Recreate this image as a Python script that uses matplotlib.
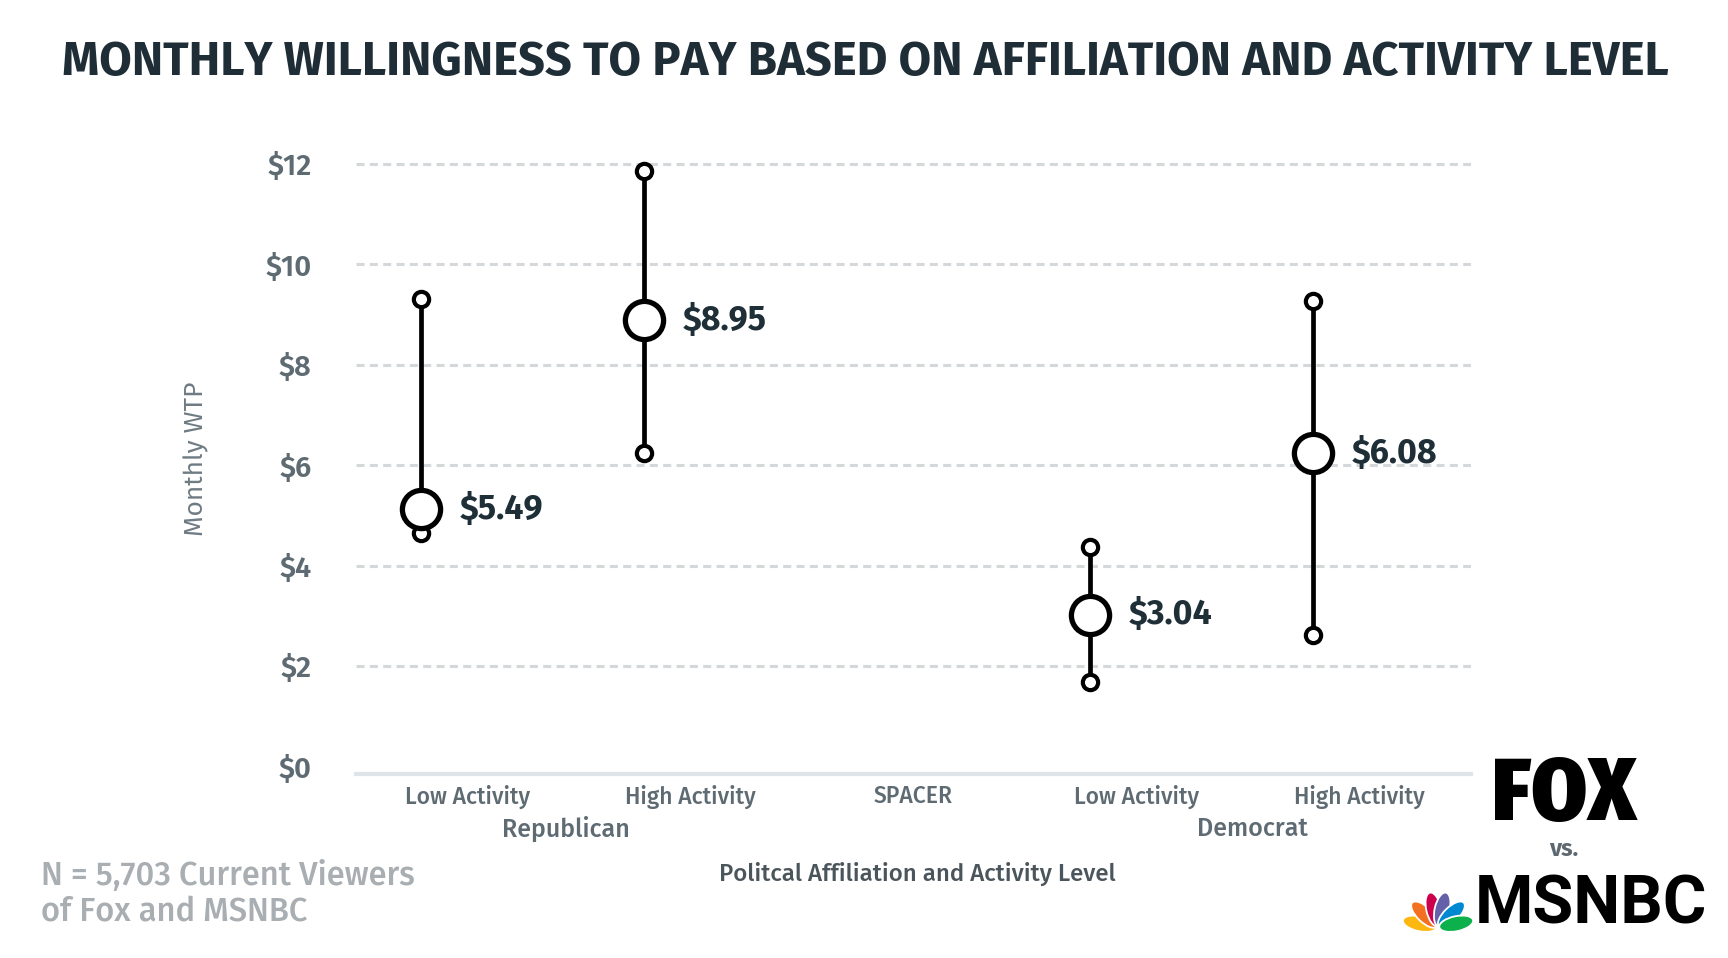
import matplotlib
matplotlib.use('Agg')
import numpy as np
import matplotlib.pyplot as plt
from matplotlib.patches import Ellipse

plt.rcParams['text.parse_math'] = False
plt.rcParams['lines.scale_dashes'] = False

# ---- data ----
CATEGORIES = ['Low Activity', 'High Activity', 'SPACER', 'Low Activity', 'High Activity']
GROUPS = ['Republican', 'Democrat']
GROUP_CENTER = [0.44, 3.52]

POINT_CAT = [0, 1, 3, 4]
MEAN = [5.12, 8.88, 3.02, 6.23]
LOW = [4.64, 6.23, 1.69, 2.61]
HIGH = [9.30, 11.86, 4.37, 9.26]
LABELS = ['$5.49', '$8.95', '$3.04', '$6.08']

YTICKS = [0, 2, 4, 6, 8, 10, 12]
YTICKLABELS = ['$0', '$2', '$4', '$6', '$8', '$10', '$12']

TITLE = 'MONTHLY WILLINGNESS TO PAY BASED ON AFFILIATION AND ACTIVITY LEVEL'
NOTE = 'N = 5,703 Current Viewers\nof Fox and MSNBC'

DODGE = -0.21
FONT = ['Fira Sans', 'Open Sans', 'DejaVu Sans']
DARK = '#1f2f38'
GRAY = '#5f6b73'
W, H = 1728, 958

fig = plt.figure(figsize=(W / 100, H / 100), dpi=100)
ax = fig.add_axes([356 / W, 184 / H, 1115 / W, 630.5 / H])

xs = [c + DODGE for c in POINT_CAT]
for x, lo, hi in zip(xs, LOW, HIGH):
    ax.plot([x, x], [lo, hi], color='black', lw=3.4, solid_capstyle='butt', zorder=3)
ax.plot(xs, LOW, 'o', ms=11, mfc='white', mec='black', mew=3.0, ls='none', zorder=4)
ax.plot(xs, HIGH, 'o', ms=11, mfc='white', mec='black', mew=3.0, ls='none', zorder=4)
ax.plot(xs, MEAN, 'o', ms=27.5, mfc='white', mec='black', mew=3.8, ls='none', zorder=5)

for x, m, lab in zip(xs, MEAN, LABELS):
    ax.annotate(lab, (x, m), xytext=(28, 0), textcoords='offset points',
                ha='left', va='center', fontsize=24.5, fontweight='bold',
                color=DARK, family=FONT)

ax.set_xlim(-0.5, 4.5)
ax.set_ylim(-0.15, 12.4)
ax.set_yticks(YTICKS)
ax.set_yticklabels(YTICKLABELS, fontsize=21, fontweight='semibold', color=GRAY, family=FONT)
ax.set_xticks(range(len(CATEGORIES)))
ax.set_xticklabels(CATEGORIES, fontsize=16.5, fontweight='medium', color=GRAY, family=FONT)
ax.tick_params(axis='y', length=0, pad=32)
ax.tick_params(axis='x', length=0, pad=8)

ax.yaxis.grid(True, color='#d5d8da', lw=2.2, dashes=(5.8, 3.8))
ax.yaxis.get_gridlines()[0].set_visible(False)
ax.set_axisbelow(True)
for s in ['top', 'right', 'left']:
    ax.spines[s].set_visible(False)
ax.spines['bottom'].set_color('#dfe4e8')
ax.spines['bottom'].set_linewidth(3)

for gx, g in zip(GROUP_CENTER, GROUPS):
    ax.text(gx, -0.087, g, transform=ax.get_xaxis_transform(), ha='center', va='center',
            fontsize=18, fontweight='medium', color=GRAY, family=FONT)

ax.set_ylabel('Monthly WTP', fontsize=19, color='#6f7b83', family=FONT)
ax.yaxis.set_label_coords(-0.132, 0.50)

fig.text(917 / W, 1 - 874 / H, 'Politcal Affiliation and Activity Level',
         ha='center', va='center', fontsize=17.3, fontweight='medium', color='#4a555c',
         family=FONT)

title = fig.text(865 / W, 1 - 63 / H, TITLE, ha='center', va='center', fontsize=30,
                 fontweight='bold', color='#1e2d36', family=FONT)

fig.text(41 / W, 1 - 894 / H, NOTE, ha='left', va='center', fontsize=23.5,
         fontweight='medium', color='#a8aeb2', family=FONT, linespacing=1.12)

# logos
fig.text(1564 / W, 1 - 797 / H, 'FOX', ha='center', va='center', fontsize=64,
         fontweight=900, color='black',
         family=['Fira Sans Condensed', 'Anton', 'DejaVu Sans'])
fig.text(1564 / W, 1 - 849 / H, 'vs.', ha='center', va='center', fontsize=17,
         fontweight='bold', color='#5d6870', family=FONT)
fig.text(1591 / W, 1 - 906 / H, 'MSNBC', ha='center', va='center', fontsize=48,
         fontweight='bold', color='black', family=['Roboto', 'Liberation Sans', 'DejaVu Sans'])

pax = fig.add_axes([1402 / W, 1 - 933 / H, 72 / W, 44 / H])
pax.set_xlim(-1.2, 1.2)
pax.set_ylim(-0.02, 1.445)
pax.axis('off')
cols = ['#FCB711', '#F37021', '#CC004C', '#6460AA', '#0089D0', '#0DB14B']
angles = [168, 136, 103, 77, 44, 12]
for c, a in zip(cols, angles):
    r = np.radians(a)
    pax.add_patch(Ellipse((0.62 * np.cos(r), 0.62 * np.sin(r) + 0.16), 1.15, 0.5,
                          angle=a, fc=c, ec='white', lw=1.3))

# stretch the title to the reference width
fig.canvas.draw()
bb = title.get_window_extent()
title.set_fontsize(30 * 1608 / bb.width)

fig.savefig('out.png', dpi=100, facecolor='white')
